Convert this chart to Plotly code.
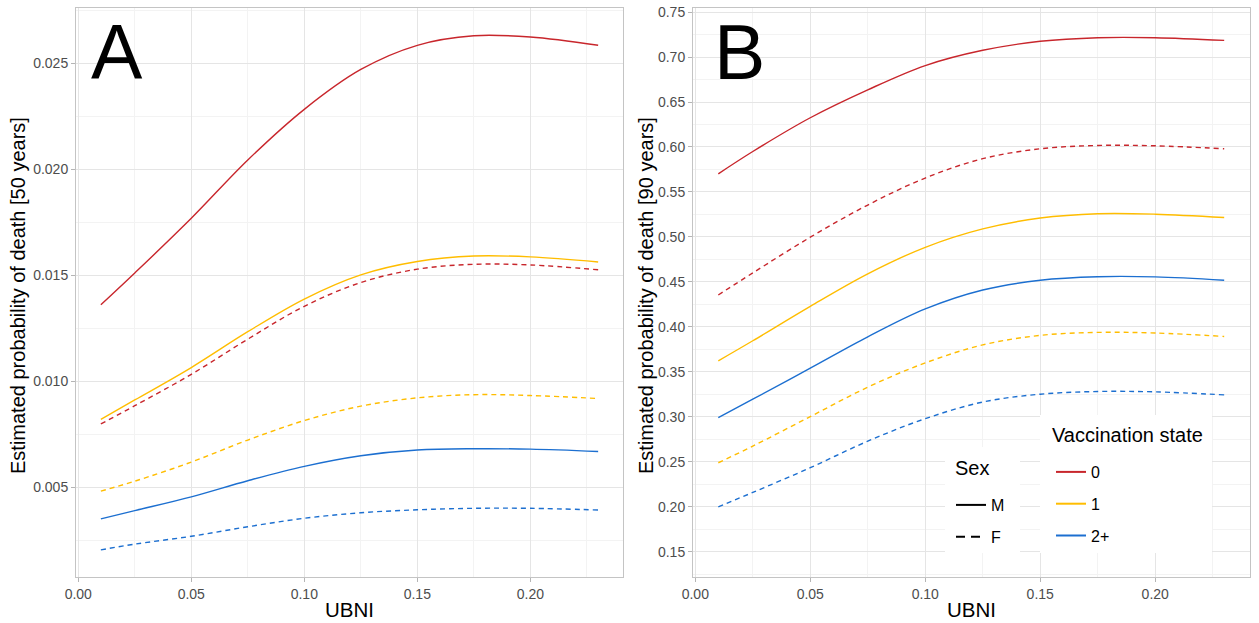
import plotly.graph_objects as go

# UBNI grid on which the model predictions are evaluated
ubni = [0.01, 0.025, 0.05, 0.075, 0.10, 0.125, 0.15, 0.175, 0.20, 0.23]

# Panel A: estimated probability of death at 50 years
a_v0_m = [0.01362, 0.01512, 0.01770, 0.02045, 0.02284, 0.02472, 0.02586, 0.02631, 0.02625, 0.02586]
a_v0_f = [0.00800, 0.00886, 0.01034, 0.01200, 0.01355, 0.01467, 0.01530, 0.01553, 0.01550, 0.01527]
a_v1_m = [0.00822, 0.00913, 0.01066, 0.01235, 0.01389, 0.01503, 0.01566, 0.01592, 0.01588, 0.01564]
a_v1_f = [0.00483, 0.00530, 0.00620, 0.00724, 0.00816, 0.00884, 0.00923, 0.00938, 0.00934, 0.00920]
a_v2_m = [0.00352, 0.00391, 0.00456, 0.00532, 0.00600, 0.00650, 0.00677, 0.00683, 0.00681, 0.00670]
a_v2_f = [0.00206, 0.00233, 0.00270, 0.00315, 0.00355, 0.00381, 0.00395, 0.00402, 0.00402, 0.00394]

# Panel B: estimated probability of death at 90 years
b_v0_m = [0.5702, 0.5950, 0.6325, 0.6635, 0.6905, 0.7075, 0.7175, 0.7215, 0.7215, 0.7185]
b_v0_f = [0.4355, 0.4600, 0.4997, 0.5355, 0.5655, 0.5870, 0.5980, 0.6017, 0.6013, 0.5980]
b_v1_m = [0.3623, 0.3846, 0.4229, 0.4590, 0.4885, 0.5090, 0.5210, 0.5258, 0.5253, 0.5216]
b_v1_f = [0.2490, 0.2675, 0.3003, 0.3330, 0.3600, 0.3800, 0.3906, 0.3939, 0.3932, 0.3894]
b_v2_m = [0.2992, 0.3196, 0.3542, 0.3890, 0.4200, 0.4410, 0.4519, 0.4558, 0.4556, 0.4519]
b_v2_f = [0.2000, 0.2160, 0.2435, 0.2730, 0.2980, 0.3165, 0.3252, 0.3282, 0.3278, 0.3244]

vacc_levels = ["0", "1", "2+"]
sex_levels = ["M", "F"]
vacc_colors = {"0": "#C8262C", "1": "#FFBD00", "2+": "#1C6FD0"}
sex_dash = {"M": "solid", "F": "5px,4px"}
sex_key_dash = {"M": "solid", "F": "9px,6px"}

panel_a = {("0", "M"): a_v0_m, ("0", "F"): a_v0_f,
           ("1", "M"): a_v1_m, ("1", "F"): a_v1_f,
           ("2+", "M"): a_v2_m, ("2+", "F"): a_v2_f}
panel_b = {("0", "M"): b_v0_m, ("0", "F"): b_v0_f,
           ("1", "M"): b_v1_m, ("1", "F"): b_v1_f,
           ("2+", "M"): b_v2_m, ("2+", "F"): b_v2_f}

W, H = 1259, 623
FONT = "Liberation Sans, Arial, Helvetica, sans-serif"


def px_x(p):
    return p / W


def px_y(p):
    return 1 - p / H


fig = go.Figure()

for (xa, ya), panel in (("x", "y"), panel_a), (("x2", "y2"), panel_b):
    for v in vacc_levels:
        for s in sex_levels:
            fig.add_trace(go.Scatter(
                x=ubni, y=panel[(v, s)], xaxis=xa, yaxis=ya,
                mode="lines", line=dict(color=vacc_colors[v], width=1.4,
                                        dash=sex_dash[s], shape="spline",
                                        smoothing=1.0),
                showlegend=False, hoverinfo="x+y"))

# Legend entries: vaccination state (colour) and sex (line type)
for v in vacc_levels:
    fig.add_trace(go.Scatter(
        x=[None], y=[None], mode="lines", name=v, legend="legend",
        legendgroup="v" + v,
        line=dict(color=vacc_colors[v], width=2)))
for s in sex_levels:
    fig.add_trace(go.Scatter(
        x=[None], y=[None], mode="lines", name=s, legend="legend2",
        legendgroup="s" + s,
        line=dict(color="black", width=2, dash=sex_key_dash[s])))

grid_major = "#E5E5E5"
grid_minor = "#F3F3F3"
border = "#C4C4C4"

common_axis = dict(
    showline=True, mirror=True, linecolor=border, linewidth=1,
    showgrid=True, gridcolor=grid_major, gridwidth=1, zeroline=False,
    ticks="outside", ticklen=4, tickcolor="#B5B5B5", tickwidth=1,
    tickfont=dict(family=FONT, size=14, color="#4D4D4D"),
    automargin=False,
)

x_common = dict(common_axis, range=[-0.001, 0.241], dtick=0.05, tick0=0,
                tickformat=".2f",
                minor=dict(dtick=0.025, showgrid=True, gridcolor=grid_minor,
                           gridwidth=1, ticks=""))

top, bottom = 8, 577
legend_common = dict(
    title=dict(text=""), font=dict(size=16, family=FONT, color="black"),
    xanchor="left", yanchor="top", bgcolor="rgba(0,0,0,0)", borderwidth=0,
    traceorder="grouped", itemwidth=30)

fig.update_layout(
    width=W, height=H,
    margin=dict(l=0, r=0, t=0, b=0),
    paper_bgcolor="white", plot_bgcolor="white",
    font=dict(family=FONT, color="black"),
    xaxis=dict(x_common, domain=[px_x(76), px_x(623)], anchor="y"),
    yaxis=dict(common_axis, domain=[px_y(bottom), px_y(top)], anchor="x",
               range=[0.00078, 0.02762], dtick=0.005, tick0=0,
               tickformat=".3f",
               minor=dict(dtick=0.0025, showgrid=True, gridcolor=grid_minor,
                          gridwidth=1, ticks="")),
    xaxis2=dict(x_common, domain=[px_x(693), px_x(1249.5)], anchor="y2"),
    yaxis2=dict(common_axis, domain=[px_y(bottom), px_y(top)], anchor="x2",
                range=[0.122, 0.7545], dtick=0.05, tick0=0,
                tickformat=".2f",
                minor=dict(dtick=0.025, showgrid=True, gridcolor=grid_minor,
                           gridwidth=1, ticks="")),
    legend=dict(legend_common, x=px_x(1051), y=px_y(455), tracegroupgap=8),
    legend2=dict(legend_common, x=px_x(951), y=px_y(488), tracegroupgap=8),
)

# White key boxes behind the two legends
fig.add_shape(type="rect", xref="paper", yref="paper", layer="above",
              x0=px_x(1040), x1=px_x(1212), y0=px_y(553), y1=px_y(415),
              fillcolor="white", line=dict(width=0))
fig.add_shape(type="rect", xref="paper", yref="paper", layer="above",
              x0=px_x(945), x1=px_x(1020), y0=px_y(553), y1=px_y(447),
              fillcolor="white", line=dict(width=0))

annotations = [
    dict(text="A", x=px_x(89), y=px_y(52), xanchor="left", yanchor="middle",
         font=dict(size=77, family=FONT, color="black")),
    dict(text="B", x=px_x(712), y=px_y(52), xanchor="left", yanchor="middle",
         font=dict(size=77, family=FONT, color="black")),
    dict(text="UBNI", x=px_x(349.5), y=px_y(609), xanchor="center",
         yanchor="middle", font=dict(size=20.5, family=FONT, color="black")),
    dict(text="UBNI", x=px_x(971), y=px_y(609), xanchor="center",
         yanchor="middle", font=dict(size=20.5, family=FONT, color="black")),
    dict(text="Estimated probability of death [50 years]", x=px_x(18),
         y=px_y(296), xanchor="center", yanchor="middle", textangle=-90,
         font=dict(size=20, family=FONT, color="black")),
    dict(text="Estimated probability of death [90 years]", x=px_x(646),
         y=px_y(296), xanchor="center", yanchor="middle", textangle=-90,
         font=dict(size=20, family=FONT, color="black")),
    dict(text="Vaccination state", x=px_x(1050), y=px_y(435),
         xanchor="left", yanchor="middle",
         font=dict(size=20, family=FONT, color="black")),
    dict(text="Sex", x=px_x(953), y=px_y(468),
         xanchor="left", yanchor="middle",
         font=dict(size=20, family=FONT, color="black")),
]
for a in annotations:
    a.update(xref="paper", yref="paper", showarrow=False)
fig.update_layout(annotations=annotations)

fig.write_html("out.html")
